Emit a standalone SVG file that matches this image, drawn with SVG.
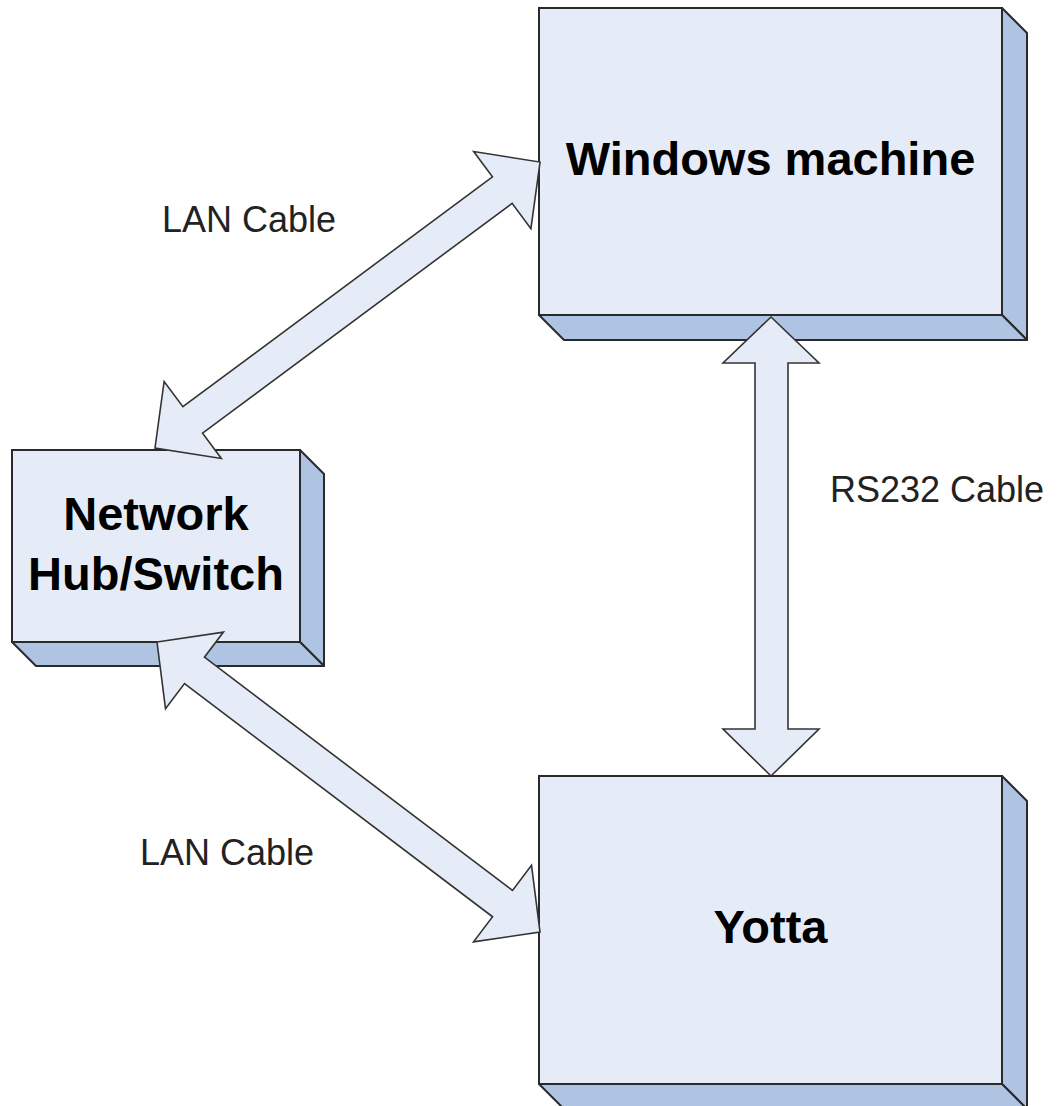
<svg xmlns="http://www.w3.org/2000/svg" width="1057" height="1106" viewBox="0 0 1057 1106">
<style>
.front{fill:#E6ECF7;stroke:#2a2a2a;stroke-width:2}
.side{fill:#AFC3E2;stroke:#2a2a2a;stroke-width:2;stroke-linejoin:round}
.arrow{fill:#E6ECF7;stroke:#333;stroke-width:1.6;stroke-linejoin:miter}
.title{font-family:"Liberation Sans",Arial,sans-serif;font-weight:bold;font-size:47px;fill:#000;text-anchor:middle}
.lbl{font-family:"Liberation Sans",Arial,sans-serif;font-size:36px;fill:#222}
</style>
<rect width="1057" height="1106" fill="#ffffff"/>
<g id="windows">
<polygon class="side" points="1002,8 1027,33 1027,340 1002,315"/>
<polygon class="side" points="539,315 1002,315 1027,340 564,340"/>
<rect class="front" x="539" y="8" width="463" height="307"/>
<text class="title" x="770.5" y="175">Windows machine</text>
</g>
<g id="hub">
<polygon class="side" points="300,450 324,474 324,666 300,642"/>
<polygon class="side" points="12,642 300,642 324,666 36,666"/>
<rect class="front" x="12" y="450" width="288" height="192"/>
<text class="title" x="156" y="530">Network</text>
<text class="title" x="156" y="590">Hub/Switch</text>
</g>
<g id="yotta">
<polygon class="side" points="1002,776 1027,801 1027,1109 1002,1084"/>
<polygon class="side" points="539,1084 1002,1084 1027,1109 564,1109"/>
<rect class="front" x="539" y="776" width="463" height="308"/>
<text class="title" x="770.5" y="943">Yotta</text>
</g>
<g id="connectors">
<polygon class="arrow" transform="translate(155,448) rotate(-36.6)" points="0,0 47,-48 47,-16.5 432.6,-16.5 432.6,-48 479.6,0 432.6,48 432.6,16.5 47,16.5 47,48"/>
<polygon class="arrow" transform="translate(157,642) rotate(37.13)" points="0,0 47,-48 47,-16.5 433.4,-16.5 433.4,-48 480.4,0 433.4,48 433.4,16.5 47,16.5 47,48"/>
<polygon class="arrow" points="771,317 819,363 788,363 788,729 819,729 771,776 723,729 755,729 755,363 723,363"/>
</g>
<g id="labels">
<text class="lbl" x="162" y="232">LAN Cable</text>
<text class="lbl" x="140" y="865">LAN Cable</text>
<text class="lbl" x="830" y="502">RS232 Cable</text>
</g>
</svg>
